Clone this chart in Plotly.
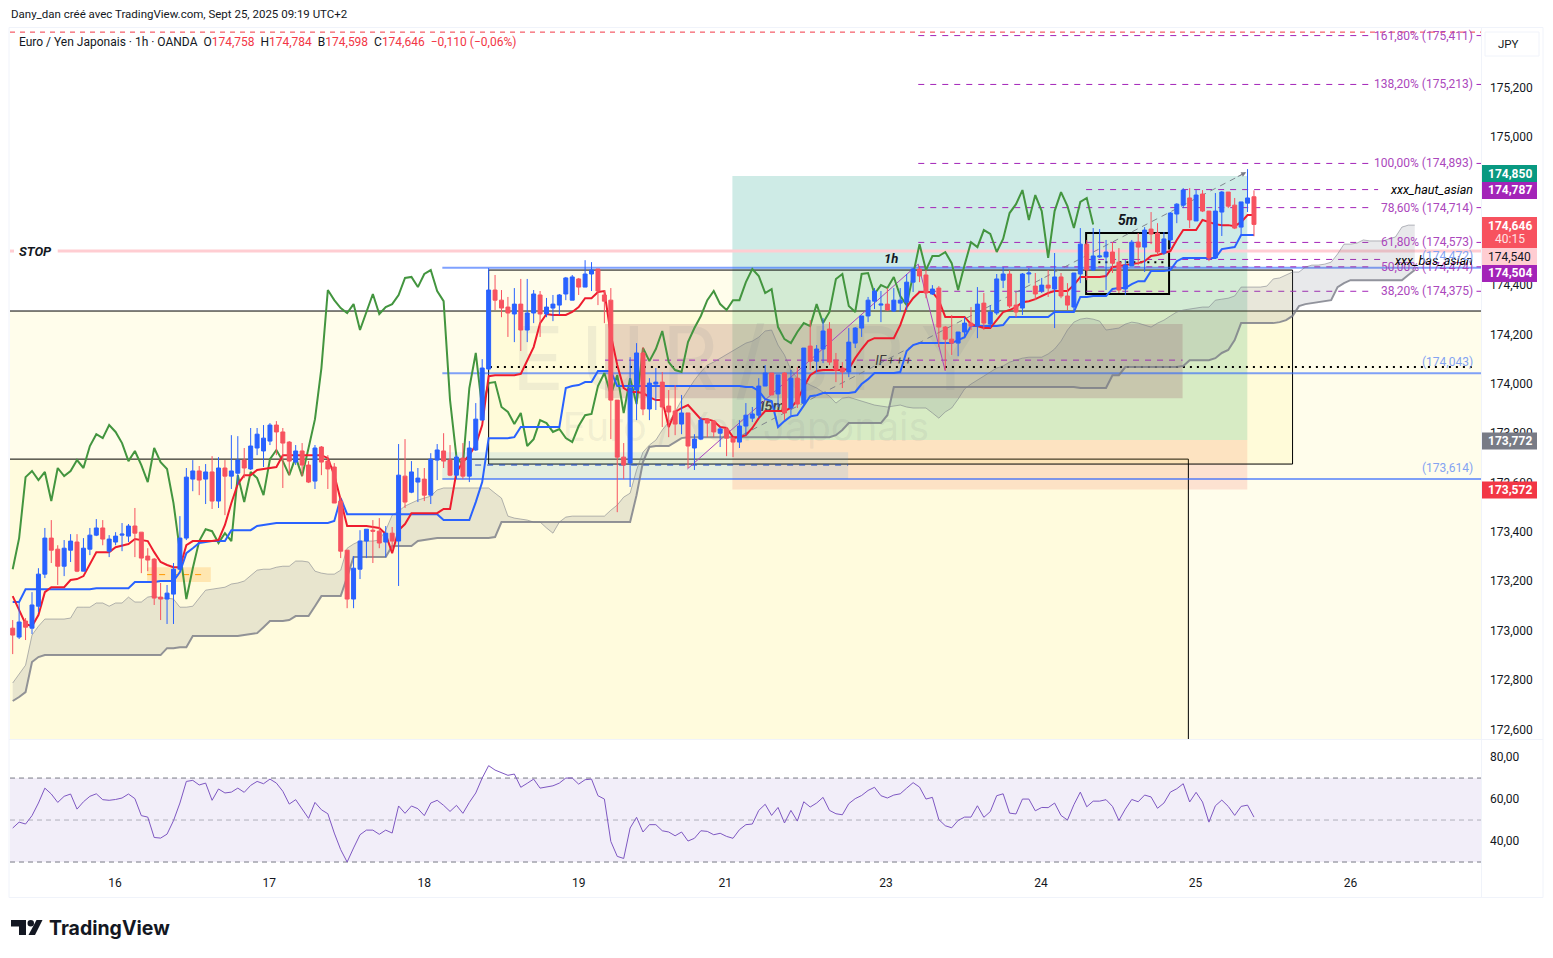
import plotly.graph_objects as go

W = 1553
H = 958

# EUR/JPY 1h candles
candle_open = [
    173.010,172.974,173.039,173.010,173.099,173.229,173.375,173.330,173.261,173.326,
    173.359,173.241,173.330,173.387,173.416,173.322,173.359,173.387,173.383,173.424,
    173.399,173.302,173.290,173.136,173.128,173.148,173.249,173.375,173.614,173.647,
    173.614,173.643,173.525,173.659,173.626,173.638,173.691,173.655,173.740,173.728,
    173.768,173.833,173.805,173.764,173.683,173.728,173.671,173.606,173.744,173.687,
    173.663,173.525,173.326,173.128,173.249,173.363,173.407,173.403,173.359,173.395,
    173.363,173.626,173.561,173.602,173.614,173.549,173.691,173.728,173.691,173.630,
    173.699,173.626,173.732,173.853,174.060,174.380,174.339,174.311,174.283,174.323,
    174.218,174.287,174.360,174.283,174.307,174.319,174.364,174.339,174.425,174.392,
    174.445,174.465,174.360,174.339,173.934,173.703,173.679,173.975,174.125,173.898,
    173.999,174.007,173.910,173.890,173.837,173.882,173.740,173.776,173.857,173.849,
    173.800,173.817,173.780,173.764,173.829,173.861,173.873,173.991,174.044,173.959,
    174.044,173.902,174.023,173.922,174.153,174.092,174.141,174.222,174.096,174.064,
    174.048,174.165,174.226,174.275,174.335,174.319,174.323,174.295,174.327,174.331,
    174.412,174.465,174.441,174.364,174.388,174.230,174.181,174.165,174.210,174.246,
    174.234,174.327,174.242,174.287,174.420,174.445,174.319,174.307,174.445,174.396,
    174.376,174.400,174.384,174.433,174.356,174.311,174.445,174.566,174.461,174.514,
    174.514,174.534,174.493,174.384,174.477,174.574,174.554,174.627,174.611,174.530,
    174.583,174.688,174.724,174.753,174.660,174.769,174.700,174.510,174.696,174.777,
    174.724,174.635,174.732,174.758,
]
candle_high = [
    173.043,173.116,173.051,173.156,173.253,173.416,173.448,173.346,173.367,173.391,
    173.391,173.375,173.416,173.452,173.448,173.387,173.399,173.436,173.432,173.497,
    173.399,173.334,173.294,173.193,173.185,173.274,173.464,173.659,173.691,173.667,
    173.675,173.707,173.703,173.691,173.792,173.788,173.740,173.821,173.821,173.833,
    173.841,173.849,173.821,173.768,173.752,173.760,173.687,173.752,173.748,173.711,
    173.679,173.541,173.326,173.302,173.407,173.411,173.448,173.456,173.424,173.420,
    173.756,173.776,173.687,173.659,173.659,173.719,173.756,173.800,173.752,173.711,
    173.760,173.768,173.922,174.100,174.469,174.441,174.380,174.352,174.388,174.425,
    174.425,174.380,174.376,174.348,174.360,174.364,174.433,174.441,174.429,174.501,
    174.493,174.465,174.380,174.388,173.934,173.760,174.108,174.165,174.149,174.023,
    174.064,174.048,173.975,173.995,173.955,173.882,173.796,173.865,173.861,173.853,
    173.825,173.825,173.784,173.853,173.922,173.906,174.023,174.076,174.044,174.036,
    174.048,174.056,174.068,174.145,174.258,174.157,174.266,174.250,174.125,174.088,
    174.226,174.230,174.275,174.352,174.388,174.376,174.388,174.388,174.388,174.445,
    174.469,174.477,174.461,174.400,174.396,174.234,174.279,174.210,174.270,174.311,
    174.392,174.368,174.319,174.445,174.473,174.461,174.368,174.449,174.469,174.449,
    174.429,174.461,174.530,174.449,174.408,174.449,174.631,174.583,174.631,174.627,
    174.583,174.574,174.550,174.501,174.583,174.611,174.635,174.696,174.651,174.615,
    174.696,174.732,174.793,174.793,174.785,174.785,174.700,174.773,174.781,174.777,
    174.753,174.737,174.870,174.784,
]
candle_low = [
    172.905,172.966,172.962,172.986,173.075,173.213,173.274,173.185,173.221,173.278,
    173.237,173.241,173.306,173.383,173.346,173.298,173.346,173.322,173.359,173.298,
    173.233,173.241,173.104,173.043,173.027,173.027,173.245,173.367,173.565,173.549,
    173.513,173.493,173.497,173.468,173.574,173.590,173.618,173.651,173.711,173.663,
    173.752,173.711,173.578,173.630,173.671,173.626,173.598,173.574,173.630,173.574,
    173.517,173.294,173.091,173.091,173.209,173.294,173.274,173.334,173.298,173.326,
    173.181,173.497,173.557,173.521,173.525,173.513,173.610,173.659,173.626,173.614,
    173.614,173.602,173.728,173.853,174.056,174.299,174.270,174.190,174.169,174.133,
    174.169,174.246,174.190,174.270,174.254,174.279,174.339,174.339,174.360,174.392,
    174.376,174.319,174.246,173.776,173.480,173.614,173.582,173.853,173.873,173.853,
    173.894,173.825,173.784,173.792,173.796,173.659,173.651,173.772,173.784,173.784,
    173.744,173.707,173.703,173.740,173.792,173.845,173.861,173.991,173.955,173.906,
    173.853,173.873,173.902,173.914,174.056,174.048,174.084,174.076,174.007,173.983,
    174.027,174.145,174.190,174.250,174.303,174.250,174.295,174.291,174.291,174.299,
    174.372,174.412,174.347,174.360,174.149,174.056,174.117,174.112,174.185,174.218,
    174.185,174.218,174.226,174.279,174.388,174.307,174.270,174.279,174.408,174.339,
    174.368,174.352,174.226,174.347,174.299,174.291,174.408,174.420,174.457,174.510,
    174.380,174.449,174.368,174.360,174.477,174.481,174.453,174.566,174.522,174.522,
    174.550,174.651,174.712,174.631,174.660,174.696,174.497,174.510,174.599,174.712,
    174.627,174.607,174.696,174.598,
]
candle_close = [
    172.982,173.035,173.014,173.104,173.229,173.375,173.326,173.261,173.334,173.363,
    173.241,173.334,173.387,173.416,173.371,173.371,173.383,173.391,173.424,173.395,
    173.294,173.286,173.132,173.128,173.152,173.249,173.375,173.622,173.647,173.610,
    173.643,173.525,173.659,173.626,173.647,173.691,173.659,173.748,173.796,173.780,
    173.833,173.805,173.760,173.687,173.728,173.671,173.602,173.740,173.683,173.655,
    173.517,173.322,173.128,173.253,173.363,173.411,173.403,173.355,173.395,173.363,
    173.630,173.521,173.643,173.618,173.549,173.695,173.732,173.687,173.630,173.703,
    173.626,173.740,173.857,174.064,174.380,174.339,174.307,174.287,174.323,174.218,
    174.287,174.364,174.283,174.311,174.323,174.360,174.429,174.433,174.392,174.445,
    174.461,174.376,174.335,173.934,173.703,173.671,173.983,174.125,173.898,174.003,
    174.007,173.906,173.886,173.837,173.882,173.748,173.776,173.853,173.841,173.805,
    173.817,173.780,173.764,173.829,173.873,173.878,173.991,174.044,173.955,174.036,
    173.882,174.023,173.918,174.145,174.092,174.141,174.214,174.088,174.056,174.048,
    174.169,174.226,174.275,174.339,174.376,174.323,174.299,174.339,174.339,174.412,
    174.465,174.437,174.368,174.384,174.230,174.181,174.165,174.210,174.246,174.234,
    174.323,174.246,174.291,174.425,174.445,174.315,174.291,174.445,174.449,174.364,
    174.400,174.388,174.433,174.356,174.319,174.449,174.566,174.461,174.518,174.518,
    174.534,174.489,174.380,174.481,174.574,174.554,174.623,174.607,174.534,174.587,
    174.692,174.728,174.785,174.664,174.765,174.700,174.510,174.700,174.777,174.720,
    174.631,174.737,174.753,174.646,
]
tenkan = [
    173.140,173.083,173.027,173.018,173.063,173.156,173.176,173.176,173.176,173.205,
    173.209,173.221,173.270,173.318,173.318,173.318,173.338,173.346,173.351,173.371,
    173.367,173.363,173.318,173.278,173.266,173.257,173.257,173.346,173.363,173.363,
    173.363,173.363,173.367,173.428,173.517,173.594,173.630,173.630,173.651,173.655,
    173.659,173.663,173.711,173.711,173.711,173.711,173.711,173.711,173.711,173.699,
    173.630,173.529,173.424,173.424,173.424,173.424,173.420,173.416,173.391,173.314,
    173.407,173.432,173.476,173.476,173.476,173.476,173.476,173.493,173.493,173.642,
    173.683,173.711,173.752,173.833,174.031,174.035,174.035,174.035,174.035,174.040,
    174.096,174.149,174.246,174.283,174.279,174.279,174.279,174.291,174.311,174.347,
    174.347,174.372,174.376,174.198,174.076,173.983,173.967,173.967,173.963,173.946,
    173.934,173.934,173.825,173.886,173.902,173.914,173.886,173.857,173.857,173.849,
    173.825,173.821,173.784,173.784,173.792,173.821,173.861,173.890,173.890,173.890,
    173.890,173.902,173.934,173.987,174.035,174.052,174.056,174.056,174.056,174.056,
    174.060,174.104,174.141,174.173,174.185,174.185,174.185,174.185,174.238,174.311,
    174.347,174.372,174.372,174.372,174.339,174.271,174.271,174.271,174.271,174.242,
    174.234,174.226,174.226,174.258,174.291,174.299,174.311,174.331,174.335,174.343,
    174.356,174.368,174.376,174.376,174.376,174.400,174.433,174.433,174.433,174.433,
    174.437,174.473,174.477,174.481,174.485,174.489,174.497,174.518,174.522,174.530,
    174.538,174.583,174.623,174.623,174.623,174.664,174.655,174.647,174.643,174.643,
    174.639,174.655,174.684,174.684,
]
kijun = [
    173.116,173.116,173.168,173.168,173.168,173.168,173.168,173.168,173.168,173.168,
    173.168,173.168,173.168,173.172,173.172,173.172,173.172,173.172,173.172,173.197,
    173.197,173.197,173.197,173.201,173.201,173.201,173.237,173.314,173.334,173.355,
    173.359,173.363,173.363,173.363,173.407,173.407,173.407,173.407,173.424,173.428,
    173.432,173.436,173.436,173.436,173.436,173.436,173.436,173.436,173.436,173.436,
    173.444,173.537,173.472,173.472,173.472,173.472,173.472,173.472,173.472,173.472,
    173.472,173.472,173.472,173.472,173.472,173.472,173.472,173.448,173.448,173.448,
    173.448,173.448,173.521,173.602,173.780,173.780,173.780,173.780,173.784,173.825,
    173.825,173.825,173.825,173.825,173.825,173.825,173.983,173.991,173.995,174.007,
    174.007,174.052,174.052,174.052,173.991,173.991,173.991,173.991,173.991,173.991,
    173.991,173.991,173.991,173.991,173.991,173.991,173.991,173.991,173.991,173.991,
    173.991,173.991,173.991,173.991,173.987,173.987,173.971,173.938,173.930,173.825,
    173.849,173.869,173.873,173.910,173.950,173.954,173.963,173.963,173.963,173.963,
    173.963,173.967,173.999,174.019,174.044,174.044,174.044,174.044,174.048,174.133,
    174.157,174.165,174.165,174.165,174.165,174.165,174.165,174.177,174.189,174.234,
    174.234,174.234,174.234,174.234,174.238,174.271,174.271,174.271,174.271,174.271,
    174.271,174.271,174.291,174.291,174.291,174.291,174.352,174.352,174.356,174.356,
    174.356,174.384,174.388,174.388,174.404,174.416,174.416,174.457,174.457,174.457,
    174.461,174.497,174.510,174.510,174.510,174.510,174.510,174.510,174.546,174.550,
    174.554,174.603,174.603,174.603,
]
senkou_a = [
    172.788,172.824,172.860,172.982,173.018,173.047,173.047,173.047,173.047,173.051,
    173.095,173.095,173.095,173.112,173.112,173.099,173.112,173.112,173.136,173.116,
    173.116,173.136,173.140,173.132,173.132,173.128,173.095,173.095,173.099,173.132,
    173.164,173.168,173.172,173.176,173.189,173.193,173.201,173.225,173.245,173.249,
    173.249,173.257,173.261,173.261,173.282,173.282,173.278,173.241,173.233,173.229,
    173.229,173.245,173.334,173.351,173.363,173.363,173.363,173.367,173.407,173.468,
    173.484,173.505,173.517,173.529,173.537,173.545,173.570,173.578,173.578,173.578,
    173.578,173.578,173.578,173.578,173.578,173.557,173.537,173.464,173.456,173.452,
    173.448,173.440,173.440,173.416,173.395,173.440,173.460,173.464,173.464,173.464,
    173.464,173.464,173.464,173.488,173.509,173.541,173.557,173.651,173.723,173.752,
    173.772,173.813,173.845,173.886,173.934,173.975,174.015,174.048,174.076,174.088,
    174.104,174.117,174.133,174.149,174.165,174.173,174.189,174.214,174.218,174.157,
    174.117,174.056,174.023,174.011,173.995,173.983,173.967,173.950,173.922,173.942,
    173.946,173.938,173.930,173.922,173.914,173.910,173.906,173.910,173.914,173.906,
    173.902,173.902,173.902,173.882,173.861,173.886,173.902,173.938,173.979,173.999,
    174.015,174.031,174.048,174.064,174.072,174.088,174.096,174.104,174.108,174.108,
    174.108,174.121,174.141,174.173,174.218,174.250,174.262,174.266,174.262,174.254,
    174.218,174.222,174.226,174.242,174.250,174.246,174.238,174.230,174.246,174.258,
    174.275,174.291,174.299,174.303,174.307,174.311,174.311,174.339,174.343,174.347,
    174.356,174.392,174.392,174.392,174.392,174.396,174.425,174.429,174.441,174.453,
    174.453,174.473,174.481,174.481,174.485,174.493,174.526,174.566,174.566,174.570,
    174.583,174.579,174.579,174.579,174.587,174.595,174.635,174.643,174.643,
]
senkou_b = [
    172.715,172.731,172.751,172.873,172.893,172.901,172.901,172.901,172.901,172.901,
    172.901,172.901,172.901,172.901,172.901,172.901,172.901,172.901,172.901,172.901,
    172.901,172.901,172.901,172.901,172.929,172.929,172.933,172.933,172.978,172.978,
    172.978,172.978,172.978,172.978,172.978,172.978,172.982,172.986,172.990,173.014,
    173.039,173.039,173.039,173.043,173.059,173.059,173.059,173.099,173.140,173.140,
    173.140,173.140,173.217,173.298,173.298,173.298,173.298,173.298,173.298,173.343,
    173.343,173.343,173.343,173.363,173.367,173.371,173.375,173.375,173.375,173.375,
    173.375,173.375,173.375,173.375,173.375,173.379,173.440,173.440,173.440,173.440,
    173.440,173.440,173.440,173.440,173.440,173.440,173.440,173.440,173.440,173.440,
    173.440,173.440,173.440,173.440,173.440,173.440,173.440,173.549,173.683,173.744,
    173.748,173.748,173.748,173.764,173.780,173.784,173.784,173.784,173.784,173.784,
    173.784,173.784,173.784,173.784,173.784,173.784,173.784,173.784,173.784,173.784,
    173.784,173.784,173.784,173.784,173.784,173.784,173.784,173.784,173.792,173.813,
    173.841,173.841,173.841,173.841,173.841,173.841,173.873,173.987,173.987,173.987,
    173.987,173.987,173.987,173.987,173.987,173.987,173.987,173.987,173.987,173.987,
    173.987,173.987,173.987,173.987,173.987,173.987,173.987,173.987,173.987,173.987,
    173.987,173.987,173.987,173.987,173.987,173.987,173.983,173.983,173.983,173.983,
    173.983,174.035,174.035,174.068,174.068,174.068,174.068,174.068,174.068,174.068,
    174.068,174.068,174.072,174.096,174.096,174.096,174.096,174.104,174.125,174.137,
    174.177,174.246,174.246,174.246,174.246,174.246,174.246,174.250,174.258,174.275,
    174.315,174.323,174.327,174.331,174.335,174.339,174.392,174.408,174.420,174.420,
    174.420,174.420,174.420,174.420,174.420,174.420,174.420,174.441,174.461,
]
rsi = [
    46.2,49.0,48.1,52.1,58.1,65.2,62.4,58.4,61.3,62.4,
    55.2,58.7,61.3,62.5,59.7,59.4,59.8,60.5,62.4,60.2,
    52.1,51.4,41.7,41.4,43.3,49.7,58.1,68.4,68.9,66.7,
    67.6,59.4,64.8,62.9,63.3,65.2,63.2,66.5,68.4,67.3,
    69.5,67.6,63.7,57.6,59.7,55.2,50.8,58.4,54.9,53.0,
    43.8,35.9,30.0,36.7,43.0,45.2,45.2,43.2,45.2,43.8,
    56.7,53.2,56.7,55.4,52.1,58.1,59.4,57.0,54.1,57.0,
    53.2,58.4,62.9,70.0,75.9,73.8,72.4,71.3,71.9,65.6,
    67.5,69.5,65.2,65.9,66.3,67.6,70.0,70.0,67.1,69.2,
    69.5,61.6,60.0,39.8,32.7,31.7,46.2,51.3,44.3,47.8,
    47.8,44.9,44.3,42.5,44.3,40.0,41.3,44.9,44.6,43.0,
    43.7,42.2,41.3,45.4,47.8,48.1,54.6,57.5,52.2,56.0,
    48.6,54.6,49.5,
    58.7,56.2,58.1,60.8,54.6,53.0,52.5,57.8,60.2,61.7,
    64.1,65.6,61.6,60.5,61.9,62.5,65.2,67.8,65.7,60.0,
    60.8,50.2,47.3,46.3,49.8,51.4,51.4,56.8,51.3,54.0,
    61.6,62.5,53.3,52.9,60.0,60.0,54.4,56.0,55.9,58.1,
    52.2,50.0,57.3,63.3,56.3,59.0,59.0,59.7,56.5,49.8,
    55.2,59.8,58.7,61.9,61.0,55.6,58.1,63.3,64.9,67.3,
    58.6,63.2,58.6,49.0,56.8,59.5,56.5,52.2,56.5,57.1,
    51.4,
]

price_ticks = [172.6, 172.8, 173.0, 173.2, 173.4, 173.6, 173.8, 174.0, 174.2, 174.4, 174.6, 174.8, 175.0, 175.2]
rsi_ticks = [40, 60, 80]
day_ticks = [15.9, 39.9, 64.0, 88.0, 110.8, 135.8, 159.9, 183.9, 208.0]
day_labels = ["16", "17", "18", "19", "21", "23", "24", "25", "26"]

fib_levels = [175.411, 175.213, 174.893, 174.714, 174.573, 174.474, 174.375]
fib_labels = ["161,80% (175,411)", "138,20% (175,213)", "100,00% (174,893)", "78,60% (174,714)",
              "61,80% (174,573)", "50,00% (174,474)", "38,20% (174,375)"]

BAR_L, BAR_R = -0.42, 228.3
P_LOW, P_HIGH = 172.561, 175.4417
BLUE, RED = "#2962ff", "#f7525f"
PURPLE = "#a324b8"
INK = "#131722"
FONT = "Roboto"


def fx(px):
    return px / W


def fy(py):
    return 1 - py / H


def price_px(price):
    # pixel row of a price, used to hang labels next to their level
    return 28 + (P_HIGH - price) / (P_HIGH - P_LOW) * 711


shapes = []
notes = []


def band(x0, x1, y0, y1, fill, line=None, width=1):
    shapes.append(dict(type="rect", xref="x", yref="y", x0=x0, x1=x1, y0=y0, y1=y1, layer="below",
                       fillcolor=fill, line=dict(color=line or "rgba(0,0,0,0)", width=width if line else 0)))


def seg(x0, x1, y0, y1, color, width=1, dash="solid"):
    shapes.append(dict(type="line", xref="x", yref="y", x0=x0, x1=x1, y0=y0, y1=y1, layer="below",
                       line=dict(color=color, width=width, dash=dash)))


def note(px, py, text, size=12, color=INK, anchor="left", family=FONT):
    notes.append(dict(xref="paper", yref="paper", x=fx(px), y=fy(py), text=text, showarrow=False,
                      xanchor=anchor, yanchor="middle", font=dict(size=size, color=color, family=family)))


def label_below(x0, x1, y0, y1, text, size, color, family="Inter"):
    # text that has to sit under the candles goes on an empty shape
    shapes.append(dict(type="rect", xref="x", yref="y", x0=x0, x1=x1, y0=y0, y1=y1, layer="below",
                       fillcolor="rgba(0,0,0,0)", line=dict(width=0),
                       label=dict(text=text, textposition="middle center",
                                  font=dict(size=size, color=color, family=family))))


def badge(py0, py1, fill, text, color="white"):
    shapes.append(dict(type="rect", xref="paper", yref="paper", x0=fx(1482), x1=fx(1537),
                       y0=fy(py1), y1=fy(py0), fillcolor=fill, line=dict(width=0), layer="above"))
    if text:
        note(1509.5, (py0 + py1) / 2, text, 12, color, "center")


# long position tool, the yellow zones lie over it
band(111.9, 191.96, 173.772, 174.842, "rgba(8,153,129,0.2)")
band(111.9, 191.96, 173.572, 173.772, "rgba(242,54,69,0.15)")

# long term zones
band(BAR_L, BAR_R, P_LOW, 174.295, "rgba(255,235,59,0.1)")
band(BAR_L, 182.8, P_LOW, 173.695, "rgba(255,235,59,0.08)")
seg(BAR_L, BAR_R, 174.295, 174.295, "black")
seg(BAR_L, 182.8, 173.695, 173.695, "black")
seg(182.8, 182.8, P_LOW, 173.695, "black")
band(74, 199, 173.675, 174.461, "rgba(255,235,59,0.1)", "black", 1)

band(66.8, 129.9, 173.614, 173.723, "rgba(33,150,243,0.12)")
band(92.1, 181.9, 173.942, 174.242, "rgba(150,75,90,0.22)")
band(20.9, 30.8, 173.197, 173.257, "rgba(255,152,0,0.2)")
seg(20.9, 30.2, 173.227, 173.227, "#ff9800", 1, "6px,6px")
band(166.9, 179.8, 174.364, 174.611, "rgba(255,235,59,0.1)", "black", 2)

label_below(74, 154, 173.95, 174.28, "E\u2009U\u2009R\u2009/\u2009J\u2009P\u2009Y", 88, "rgba(120,123,134,0.11)")
label_below(74, 154, 173.75, 173.91, "Euro / Yen Japonais", 39, "rgba(120,123,134,0.11)")
label_below(112, 124, 173.87, 173.95, "<b><i>15m</i></b>", 13, "#3a3a3a")
label_below(131, 143, 174.06, 174.13, "<i>IF+++</i>", 13, "#3a3a3a")

# horizontal levels and drawings
for lvl in [174.47, 174.043, 173.614]:
    seg(66.8, BAR_R, lvl, lvl, "rgba(41,98,255,0.6)", 2)
seg(71.9, 129.9, 173.671, 173.671, "#1848cc", 1, "6px,6px")
seg(BAR_L, 0.2, 174.538, 174.538, "#ffcdd2", 3)
seg(7.0, BAR_R, 174.538, 174.538, "#ffcdd2", 3)
seg(BAR_L, BAR_R, 175.425, 175.425, "#f23645", 1, "5px,5px")
for lvl, text in zip(fib_levels, fib_labels):
    seg(140.8, 211.4, lvl, lvl, PURPLE, 1, "6px,6px")
    seg(227.6, BAR_R, lvl, lvl, PURPLE, 1, "5px,5px")
    note(1475, price_px(lvl), text, 12, "#ab47bc", "right")
seg(166.9, 212.3, 174.787, 174.787, PURPLE, 1, "6px,6px")
seg(166.9, 213.4, 174.504, 174.504, PURPLE, 1, "6px,6px")
seg(92.1, 181.9, 174.096, 174.096, PURPLE, 1, "6px,6px")
seg(74.2, 227.6, 174.068, 174.068, "black", 2, "2px,5px")
seg(168.8, 179.5, 174.493, 174.493, "black", 2, "2px,5px")
seg(104.9, 140.8, 173.655, 174.485, "#ab47bc", 1)
seg(140.8, 145, 174.485, 174.052, "#ab47bc", 1)
seg(111.9, 191.8, 173.772, 174.857, "rgba(120,123,134,0.9)", 1, "6px,5px")

# RSI band and guide lines
shapes.append(dict(type="rect", xref="paper", yref="y2", x0=fx(10), x1=fx(1481), y0=30, y1=70, layer="below",
                   fillcolor="rgba(126,87,194,0.1)", line=dict(width=0)))
for lvl, col in [(70, "#787b86"), (50, "rgba(120,123,134,0.55)"), (30, "#787b86")]:
    shapes.append(dict(type="line", xref="paper", yref="y2", x0=fx(10), x1=fx(1481), y0=lvl, y1=lvl, layer="below",
                       line=dict(color=col, width=1, dash="5px,4px")))

# outer frame and pane borders
FRAME = "#f0f3fa"
shapes.append(dict(type="rect", xref="paper", yref="paper", x0=fx(9), x1=fx(1543), y0=fy(897.5), y1=fy(27.5),
                   line=dict(color=FRAME, width=1), fillcolor="rgba(0,0,0,0)", layer="above"))
shapes.append(dict(type="line", xref="paper", yref="paper", x0=fx(1481.5), x1=fx(1481.5), y0=fy(897.5), y1=fy(27.5),
                   line=dict(color=FRAME, width=1), layer="above"))
shapes.append(dict(type="line", xref="paper", yref="paper", x0=fx(9), x1=fx(1543), y0=fy(739.5), y1=fy(739.5),
                   line=dict(color=FRAME, width=1), layer="above"))

# price badges on the scale
badge(165, 182, "#089981", "<b>174,850</b>")
badge(182, 199, PURPLE, "<b>174,787</b>")
badge(217, 248, RED, "")
note(1509.5, 225.5, "<b>174,646</b>", 12, "white", "center")
note(1509.5, 239, "40:15", 12, "#ffe3e5", "center")
badge(248, 265, "#ffcdd2", "174,540", INK)
badge(265, 282, PURPLE, "<b>174,504</b>")
badge(432.5, 449.5, "#787b86", "<b>173,772</b>")
badge(481.5, 498.5, "#f23645", "<b>173,572</b>")

# JPY box
shapes.append(dict(type="rect", xref="paper", yref="paper", x0=fx(1485), x1=fx(1539), y0=fy(56), y1=fy(32),
                   fillcolor="white", line=dict(color="#f0f3fa", width=1), layer="above"))
note(1496, 44.5, "JPY", 11.5, INK)

# headers
note(9, 14, "Dany_dan créé avec TradingView.com, Sept 25, 2025 09:19 UTC+2", 11.5)
val = "<span style='color:#f23645'>%s</span>"
gap = "\u00a0\u00a0"
note(17, 42, "Euro / Yen Japonais · 1h · OANDA" + gap + "O" + val % "174,758" + gap + "H" + val % "174,784" + gap + "B"
     + val % "174,598" + gap + "C" + val % "174,646" + gap + val % "−0,110 (−0,06%)", 12)

# texts on the chart
note(17, 251, "<b><i>STOP</i></b>", 13)
note(882, 258, "<b><i>1h</i></b>", 13)
note(1116, 220, "<b><i>5m</i></b>", 14)
note(1475, 190, "<i>xxx_haut_asian</i>", 12.5, "black", "right")
note(1475, 260, "<i>xxx_bas_asian</i>", 12.5, "black", "right")
for lbl, py in [("(174,472)", 256), ("(174,043)", 362), ("(173,614)", 468)]:
    note(1475, py, lbl, 12, "#84a3f2", "right")

# TradingView mark
LOGO = "#131722"


def poly(points):
    path = "M " + " L ".join("%.5f,%.5f" % (fx(a), fy(b)) for a, b in points) + " Z"
    shapes.append(dict(type="path", xref="paper", yref="paper", path=path, fillcolor=LOGO,
                       line=dict(width=0), layer="above"))


poly([(11, 920), (26, 920), (26, 935), (19, 935), (19, 926.5), (11, 926.5)])
poly([(36.5, 920), (42.5, 920), (35, 935), (28.5, 935)])
shapes.append(dict(type="circle", xref="paper", yref="paper", x0=fx(27.5), x1=fx(34), y0=fy(926.5), y1=fy(920),
                   fillcolor=LOGO, line=dict(width=0), layer="above"))
note(47, 928, "<b>TradingView</b>", 19.5, LOGO, family="Inter")

bars = list(range(len(candle_close)))
cloud_bars = list(range(len(senkou_a)))
chikou = candle_close[25:]

fig = go.Figure()
fig.add_trace(go.Scatter(x=cloud_bars, y=senkou_a, mode="lines", line=dict(color="rgba(120,123,134,0.55)", width=1)))
fig.add_trace(go.Scatter(x=cloud_bars, y=senkou_b, mode="lines", fill="tonexty", fillcolor="rgba(120,123,134,0.17)",
                         line=dict(color="rgba(120,123,134,0.8)", width=2)))
fig.add_trace(go.Scatter(x=bars[:len(chikou)], y=chikou, mode="lines", line=dict(color="#43953f", width=2)))
fig.add_trace(go.Scatter(x=bars, y=kijun, mode="lines", line=dict(color=BLUE, width=2)))
fig.add_trace(go.Scatter(x=bars, y=tenkan, mode="lines", line=dict(color="#ee1c2e", width=2)))
# candles sit on an overlay axis so that the lines stay underneath them
fig.add_trace(go.Candlestick(x=bars, open=candle_open, high=candle_high, low=candle_low, close=candle_close,
                             yaxis="y3",
                             increasing=dict(line=dict(color=BLUE, width=1), fillcolor=BLUE),
                             decreasing=dict(line=dict(color=RED, width=1), fillcolor=RED)))
fig.add_trace(go.Scatter(x=bars, y=rsi, mode="lines", xaxis="x2", yaxis="y2", line=dict(color="#7e57c2", width=1)))

notes.append(dict(xref="x", yref="y", x=191.8, y=174.857, ax=-10, ay=5, text="", showarrow=True,
                  arrowhead=2, arrowsize=1, arrowwidth=1, arrowcolor="#787b86"))

tick_font = dict(size=12, color=INK, family=FONT)
fig.update_layout(
    width=W, height=H,
    margin=dict(l=0, r=0, t=0, b=0),
    paper_bgcolor="white", plot_bgcolor="white",
    showlegend=False, hovermode=False,
    boxgap=0.12,
    shapes=shapes, annotations=notes,
    xaxis=dict(domain=[fx(10), fx(1481)], range=[BAR_L, BAR_R], anchor="y", showticklabels=False,
               showgrid=False, zeroline=False, rangeslider=dict(visible=False)),
    xaxis2=dict(domain=[fx(10), fx(1481)], range=[BAR_L, BAR_R], anchor="y2", matches="x", showgrid=False,
                zeroline=False, tickmode="array", tickvals=day_ticks, ticktext=day_labels, tickfont=tick_font),
    yaxis=dict(domain=[fy(739), fy(28)], range=[P_LOW, P_HIGH], side="right", showgrid=False, zeroline=False,
               tickmode="array", tickvals=price_ticks,
               ticktext=[("%.3f" % v).replace(".", ",") for v in price_ticks],
               tickfont=tick_font, ticklabelstandoff=8),
    yaxis2=dict(domain=[fy(874), fy(739)], range=[24.3, 88.6], side="right", showgrid=False, zeroline=False,
                tickmode="array", tickvals=rsi_ticks, ticktext=["%d,00" % v for v in rsi_ticks],
                tickfont=tick_font, ticklabelstandoff=8),
    yaxis3=dict(overlaying="y", range=[P_LOW, P_HIGH], side="right", visible=False),
)

fig.write_html("out.html", config=dict(displayModeBar=False), post_script="document.body.style.margin='0';")
